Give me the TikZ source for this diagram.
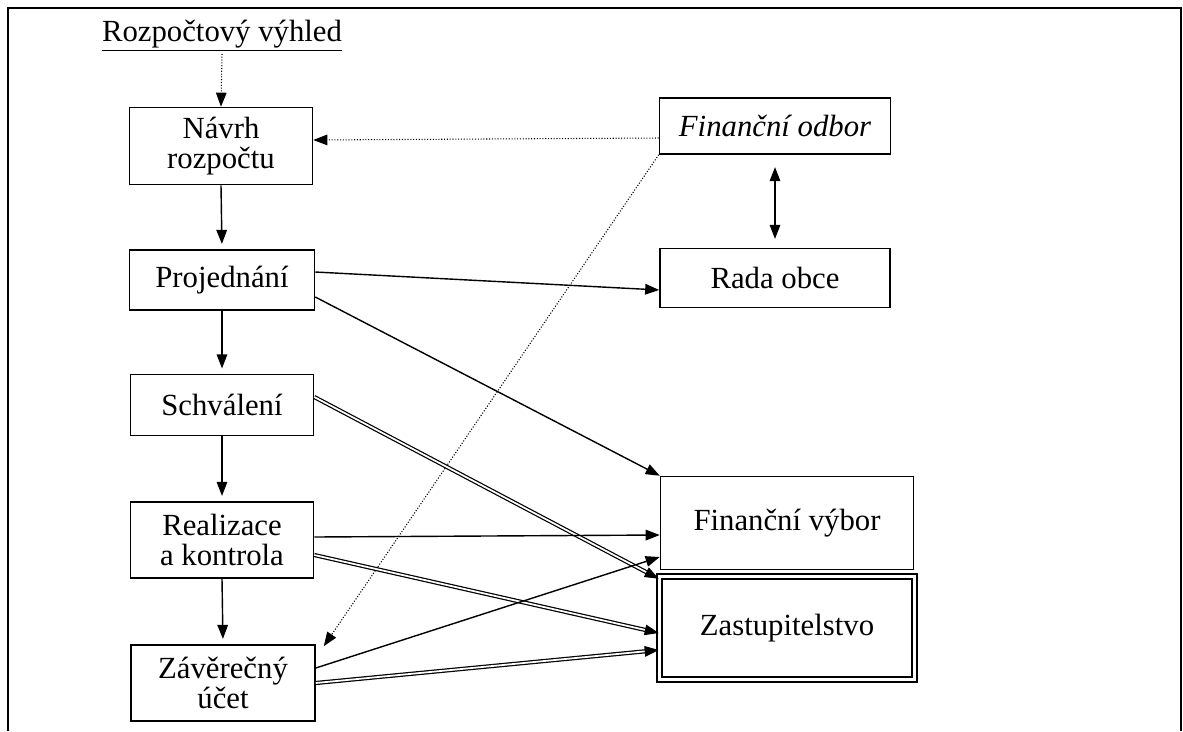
\documentclass[tikz,border=0pt]{standalone}
\usepackage{fontspec}
\setmainfont{Liberation Serif}
\usetikzlibrary{arrows.meta,calc,positioning}

\begin{document}
\begin{tikzpicture}[x=0.02cm,y=-0.02cm,
	box/.style={draw,line width=0.9pt,align=center,inner sep=0pt,font=\fontsize{17.5}{17.5}\selectfont},
	flow/.style={line width=0.8pt,-{Triangle[length=8pt,width=6pt]}},
	dflow/.style={line width=0.7pt,double,double distance=1pt,-{Triangle[length=8pt,width=6pt]}},
	weak/.style={densely dotted,line width=0.6pt,-{Triangle[length=8pt,width=6pt]}}]
\useasboundingbox (0,0) rectangle (1183,731);
\draw[line width=1.3pt] (8,731) -- (8,8) -- (1181,8) -- (1181,731);

\node[font=\fontsize{17.5}{17.5}\selectfont,inner sep=1pt] (vyhled) at (222,36) {\underline{Rozpočtový výhled}};
\node[box,minimum width=3.66cm,minimum height=1.54cm] (navrh) at (221,146) {Návrh\\rozpočtu};
\node[box,minimum width=3.7cm,minimum height=1.2cm] (proj) at (222,280) {Projednání};
\node[box,minimum width=3.66cm,minimum height=1.22cm] (schv) at (222,405) {Schválení};
\node[box,minimum width=3.66cm,minimum height=1.52cm] (real) at (222,540) {Realizace\\a kontrola};
\node[box,minimum width=3.68cm,minimum height=1.52cm] (zav) at (223,683) {Závěrečný\\účet};

\node[box,minimum width=4.62cm,minimum height=1.12cm,font=\fontsize{17.5}{17.5}\selectfont\itshape] (odbor) at (775,126) {Finanční odbor};
\node[box,minimum width=4.6cm,minimum height=1.18cm] (rada) at (775,278) {Rada obce};
\node[box,minimum width=5.06cm,minimum height=1.86cm] (vybor) at (787,523) {Finanční výbor};
\node[box,double,double distance=2.2pt,minimum width=5.1cm,minimum height=2.06cm] (zast) at (787,628) {Zastupitelstvo};

\draw[weak] (vyhled.south) -- (navrh.north);
\draw[flow,shorten >=3pt] (navrh.south) -- (proj.north);
\draw[flow,shorten >=3pt] (proj.south) -- (schv.north);
\draw[flow,shorten >=3pt] (schv.south) -- (real.north);
\draw[flow,shorten >=3pt] (real.south) -- (zav.north);

\draw[weak] ($(odbor.west)+(0,12)$) -- ($(navrh.east)+(0,-6)$);
\draw[weak] (odbor.south west) -- ($(zav.north east)+(8,2)$);
\draw[line width=0.8pt,{Triangle[length=8pt,width=6pt]}-{Triangle[length=8pt,width=6pt]},shorten <=7pt,shorten >=5pt] (odbor.south) -- (rada.north);

\draw[flow] ($(proj.east)+(0,-8)$) -- ($(rada.west)+(0,12)$);
\draw[flow] ($(proj.east)+(0,17)$) -- (vybor.north west);
\draw[dflow] ($(schv.east)+(0,-8)$) -- ($(zast.north west)+(0,3)$);
\draw[flow] ($(real.east)+(0,-3)$) -- ($(vybor.west)+(0,12)$);
\draw[dflow] ($(real.east)+(0,15)$) -- ($(zast.west)+(0,5)$);
\draw[flow] ($(zav.east)+(0,-15)$) -- ($(vybor.west)+(0,34)$);
\draw[dflow] (zav.east) -- ($(zast.west)+(0,22)$);
\end{tikzpicture}
\end{document}
